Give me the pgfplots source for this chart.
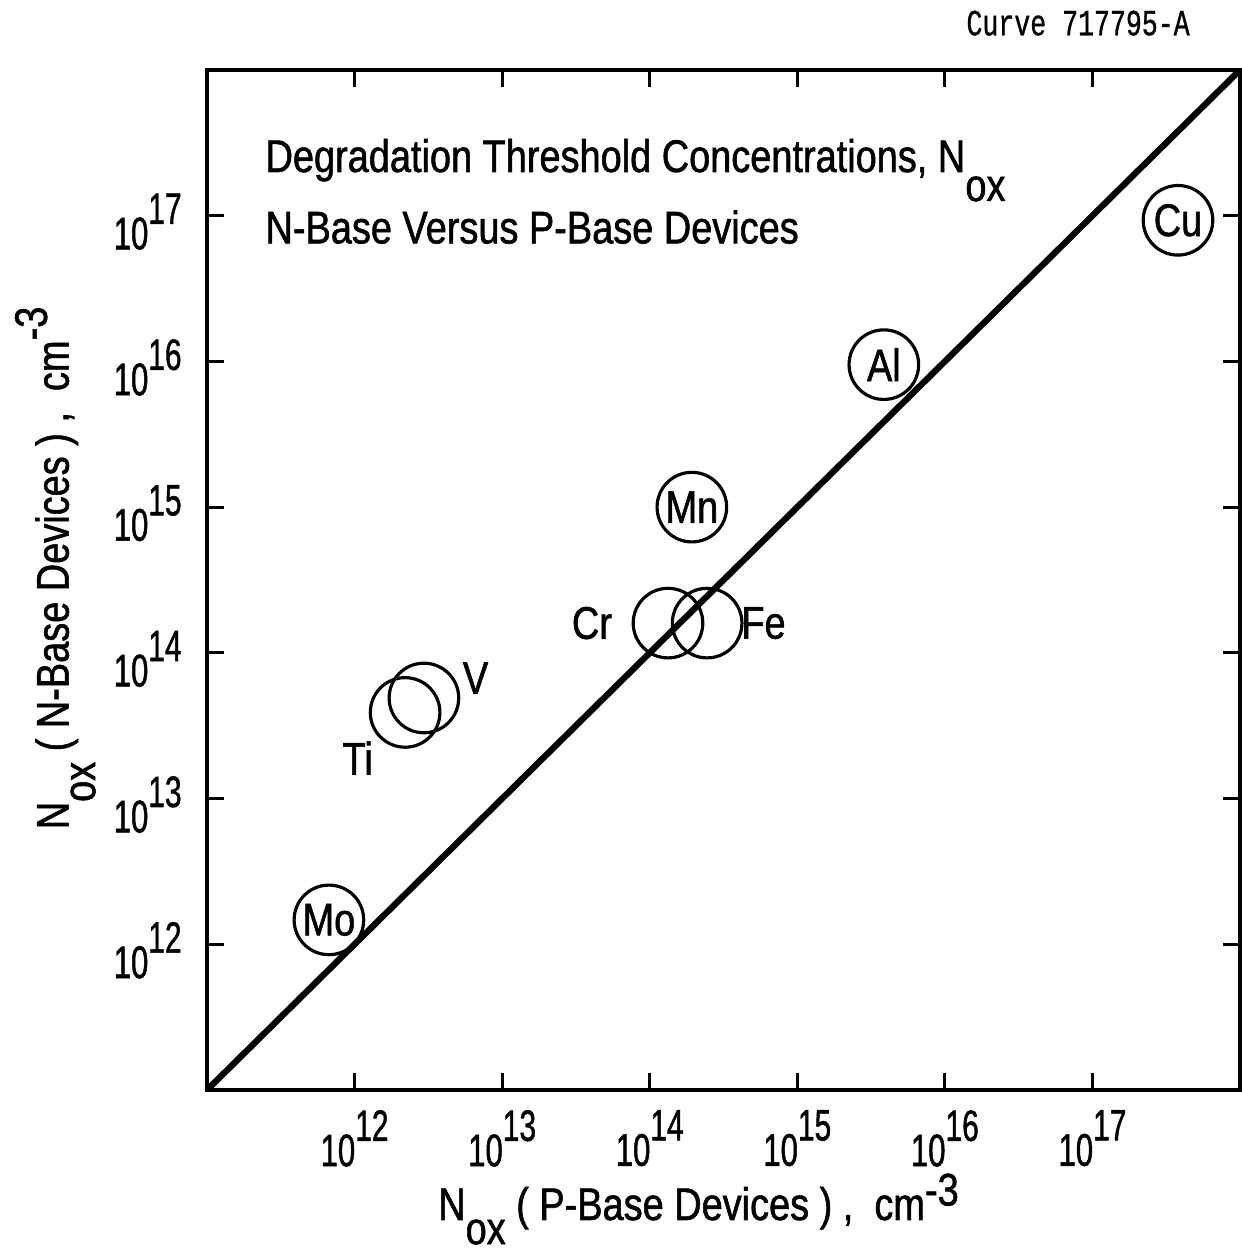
\documentclass[border=0pt]{standalone}
\usepackage{pgfplots}
\pgfplotsset{compat=1.18}
\usepackage{fontspec}
\setmainfont{Liberation Sans}[FakeStretch=0.83, FakeBold=1.2]
\setmonofont{Liberation Mono}[FakeStretch=0.72, FakeBold=0.8]
\newcommand\tl[1]{\scalebox{0.82}[1]{\fontsize{13}{13}\selectfont 10\raisebox{1.05ex}{\fontsize{12.5}{12.5}\selectfont #1}}}
\begin{document}
\begin{tikzpicture}
\useasboundingbox (-20.7mm,-16.5mm) rectangle (103.5mm,109mm);
\begin{axis}[
  scale only axis, width=103.3mm, height=102mm,
  xmode=log, ymode=log,
  xmin=1e11, xmax=1e18, ymin=1e11, ymax=1e18,
  axis line style={line width=1pt},
  tick style={line width=0.9pt, black},
  major tick length=1.7mm,
  tick align=inside,
  xminorticks=false, yminorticks=false,
  xtick={1e12,1e13,1e14,1e15,1e16,1e17},
  ytick={1e12,1e13,1e14,1e15,1e16,1e17},
  xticklabels={\tl{12},\tl{13},\tl{14},\tl{15},\tl{16},\tl{17}},
  yticklabels={\tl{12},\tl{13},\tl{14},\tl{15},\tl{16},\tl{17}},
  xticklabel style={yshift=-1.6mm, inner sep=1pt},
  yticklabel style={xshift=-1.3mm, yshift=-0.6mm},
  xlabel={\fontsize{13}{13}\selectfont N\raisebox{-1.0ex}{ox} ( P-Base Devices ) ,\ \ cm\raisebox{0.6ex}{-3}},
  ylabel={\fontsize{13}{13}\selectfont N\raisebox{-1.1ex}{ox} ( N-Base Devices ) ,\ \ cm\raisebox{0.9ex}{-3}},
  xlabel style={at={(axis description cs:0.5,0)}, anchor=base, yshift=-13mm, xshift=-2.5mm, inner sep=0pt},
  ylabel style={yshift=-0.6mm, xshift=1.2mm},
  clip=false,
]
% y = x line
\addplot[black, line width=1.8pt] coordinates {(1e11,1e11) (1e18,1e18)};
% circles
\addplot[only marks, mark=o, mark size=9.9pt, mark options={line width=0.9pt, black}] coordinates {
  (6.7e11,1.47e12)
  (2.2e12,3.9e13)
  (2.95e12,4.9e13)
  (1.33e14,1.6e14)
  (2.45e14,1.6e14)
  (1.93e14,1.0e15)
  (3.86e15,9.5e15)
  (3.8e17,9.3e16)
};
% labels
\addplot[only marks, mark=none, point meta=explicit symbolic,
  nodes near coords, nodes near coords style={anchor=center, font=\fontsize{13}{13}\selectfont, inner sep=0pt}]
  coordinates {
  (6.7e11,1.47e12) [Mo]
  (1.05e12,1.9e13) [Ti]
  (6.6e12,6.7e13) [V]
  (4.06e13,1.6e14) [Cr]
  (5.9e14,1.6e14) [Fe]
  (1.93e14,1.0e15) [Mn]
  (3.86e15,9.5e15) [Al]
  (3.8e17,9.3e16) [Cu]
};
\node[anchor=base west, font=\fontsize{13}{13}\selectfont, inner sep=0pt] at (rel axis cs:0.056,0.9) {Degradation Threshold Concentrations,\ N\raisebox{-1.2ex}{ox}};
\node[anchor=base west, font=\fontsize{13}{13}\selectfont, inner sep=0pt] at (rel axis cs:0.056,0.83) {N-Base Versus\ P-Base Devices};
\node[anchor=base east, font=\ttfamily\fontsize{10.5}{10.5}\selectfont, inner sep=0pt] at (rel axis cs:0.952,1.034) {Curve 717795-A};
\end{axis}
\end{tikzpicture}
\end{document}
